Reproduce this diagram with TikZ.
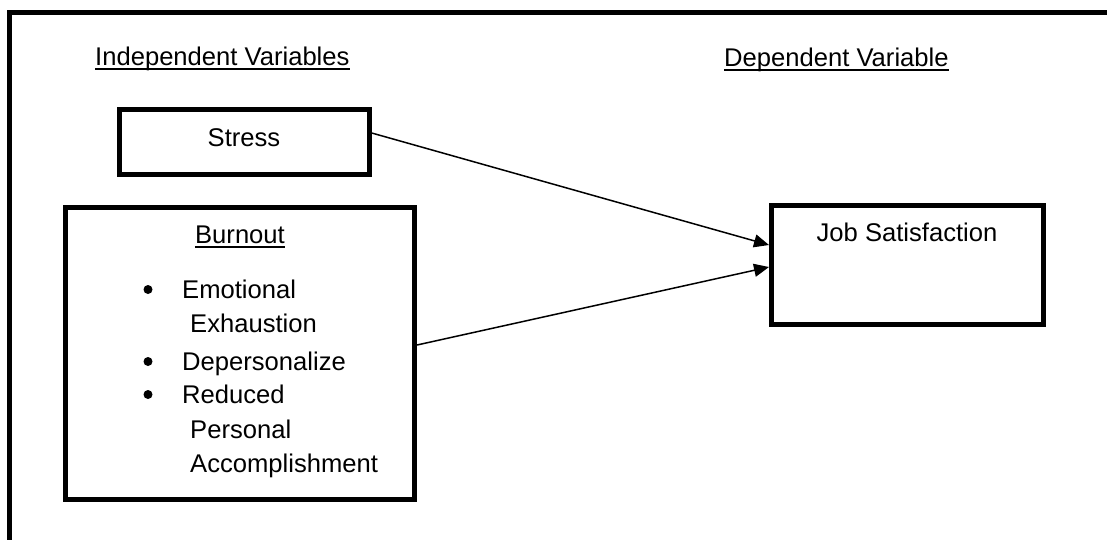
\documentclass[tikz,border=0pt]{standalone}
\usepackage{fontspec}
\setmainfont{Liberation Sans}
\usetikzlibrary{arrows.meta,calc}
\begin{document}
\begin{tikzpicture}[x=1pt,y=-1pt,
  box/.style={draw=black,line width=5pt,rectangle,inner sep=0pt},
  txt/.style={inner sep=0pt,font=\fontsize{25.6}{30}\selectfont},
  dot/.style={circle,fill=black,inner sep=0pt,minimum size=9pt},
  link/.style={line width=1.5pt,-{Triangle[length=15pt,width=13pt]}},
  uline/.style={line width=2pt}]
\useasboundingbox (0,0) rectangle (1107,539);
% outer frame, running off the right and bottom edges
\begin{scope}
  \clip (0,0) rectangle (1107,539);
  \draw[line width=5pt] (9.5,12.5) rectangle (1130,560);
\end{scope}

% column headings
\node[txt,anchor=base west] (indep) at (95,65) {Independent Variables};
\node[txt,anchor=base west] (dep) at (724,66) {Dependent Variable};
\draw[uline] ($(indep.base west)+(0,4)$) -- ($(indep.base east)+(0,4)$);
\draw[uline] ($(dep.base west)+(0,3.5)$) -- ($(dep.base east)+(0,3.5)$);

% boxes
\node[box,minimum width=249.5pt,minimum height=64.5pt] (stress) at (244.5,142) {};
\node[box,minimum width=349pt,minimum height=292pt] (burnout) at (240,353.5) {};
\node[box,minimum width=272pt,minimum height=119pt] (job) at (907.5,265) {};

% box texts
\node[txt,anchor=base] (stresstxt) at (244,146) {Stress};
\node[txt,anchor=base] (burnouttxt) at (240,243) {Burnout};
\draw[uline] ($(burnouttxt.base west)+(0,4)$) -- ($(burnouttxt.base east)+(0,4)$);
\node[txt,anchor=base] (jobtxt) at (907,241) {Job Satisfaction};

% burnout dimensions
\node[dot] (bul1) at (148,289.5) {};
\node[dot] (bul2) at (148,361.5) {};
\node[dot] (bul3) at (148,394.5) {};
\node[txt,anchor=base west] (item1a) at (182,298) {Emotional};
\node[txt,anchor=base west] (item1b) at (190,332) {Exhaustion};
\node[txt,anchor=base west] (item2) at (182,370) {Depersonalize};
\node[txt,anchor=base west] (item3a) at (182,403) {Reduced};
\node[txt,anchor=base west] (item3b) at (190,438) {Personal};
\node[txt,anchor=base west] (item3c) at (190,472) {Accomplishment};

% connectors
\draw[link] ($(stress.east)+(0,-9)$) -- ($(job.west)+(0,-20)$);
\draw[link] ($(burnout.east)+(0,-8.5)$) -- ($(job.west)+(0,2)$);
\end{tikzpicture}
\end{document}
